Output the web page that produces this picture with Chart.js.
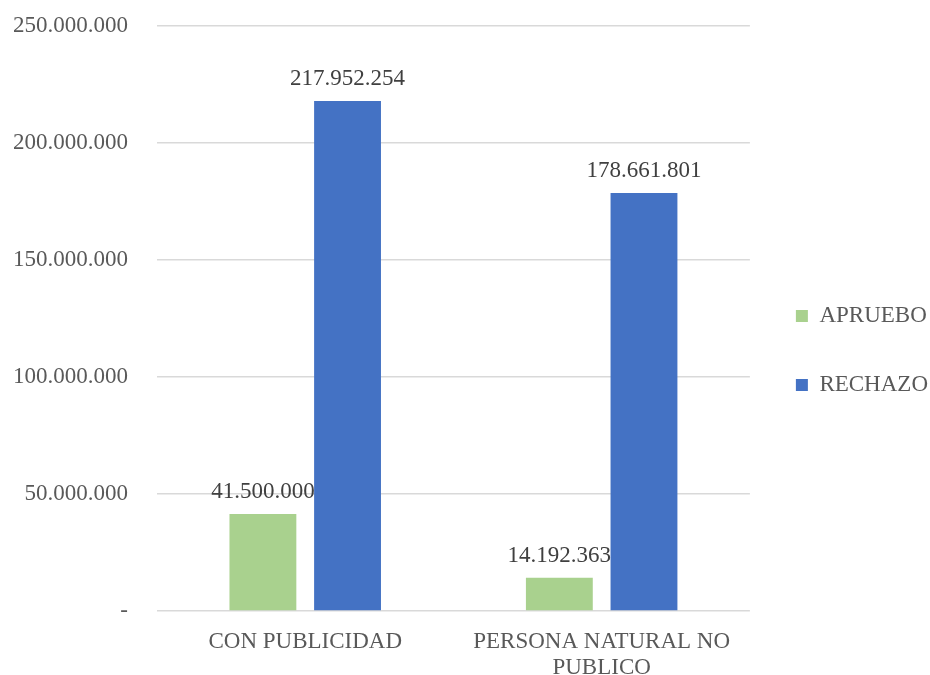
<!DOCTYPE html>
<html lang="es">
<head>
  <meta charset="UTF-8" />
  <title>Apruebo / Rechazo</title>
  <style>
    *{box-sizing:border-box;margin:0;padding:0;}
    html,body{width:930px;height:675px;background:#fff;overflow:hidden;}
    #wrap{width:930px;height:675px;position:relative;}
  </style>
</head>
<body>
  <div id="wrap"><canvas id="chart"></canvas></div>

  <script src="https://cdn.jsdelivr.net/npm/chart.js@4.4.1/dist/chart.umd.min.js"></script>
  <script>
  /* -------- datos -------- */
  const categories=['CON PUBLICIDAD',['PERSONA NATURAL NO','PUBLICO']];
  const seriesNames=['APRUEBO','RECHAZO'];
  const apruebo=[41500000,14192363];
  const rechazo=[217952254,178661801];
  const seriesColors=['#A9D18E','#4472C4'];
  const yTicks=[0,50000000,100000000,150000000,200000000,250000000];

  const FONT='"Liberation Serif","Times New Roman",serif';
  const fmt=v=>v===0?'-':String(v).replace(/\B(?=(\d{3})+(?!\d))/g,'.');

  /* etiquetas de valor sobre cada barra */
  const valueLabels={
    id:'valueLabels',
    afterDatasetsDraw(chart){
      const {ctx}=chart;
      ctx.save();
      ctx.font='23px '+FONT;
      ctx.fillStyle='#404040';
      ctx.textAlign='center';
      ctx.textBaseline='alphabetic';
      chart.data.datasets.forEach((ds,i)=>{
        chart.getDatasetMeta(i).data.forEach((bar,j)=>{
          ctx.fillText(fmt(ds.data[j]),bar.x,bar.y-16);
        });
      });
      ctx.restore();
    }
  };

  new Chart(document.getElementById('chart'),{
    type:'bar',
    data:{
      labels:categories,
      datasets:[
        {label:seriesNames[0],data:apruebo,backgroundColor:seriesColors[0]},
        {label:seriesNames[1],data:rechazo,backgroundColor:seriesColors[1]}
      ]
    },
    options:{
      responsive:true,
      maintainAspectRatio:false,
      animation:false,
      categoryPercentage:0.571,
      barPercentage:0.79,
      layout:{padding:{top:26,left:11,right:-8,bottom:0}},
      plugins:{
        tooltip:{enabled:false},
        legend:{
          position:'right',
          labels:{
            font:{family:FONT,size:23},
            color:'#595959',
            boxWidth:12,
            boxHeight:12,
            padding:46
          }
        }
      },
      scales:{
        x:{
          grid:{display:false,drawTicks:false},
          border:{display:false},
          afterFit(s){s.height=64;s.paddingLeft=0;s.paddingRight=0;},
          ticks:{
            font:{family:FONT,size:23,lineHeight:1.13},
            color:'#595959',
            padding:18,
            maxRotation:0,
            autoSkip:false
          }
        },
        y:{
          min:0,
          max:250000000,
          afterBuildTicks(scale){scale.ticks=yTicks.map(v=>({value:v}));},
          afterFit(s){s.width=146;s.paddingTop=0;s.paddingBottom=0;},
          grid:{color:'#D9D9D9',lineWidth:1.5,drawTicks:false},
          border:{display:false},
          ticks:{
            font:{family:FONT,size:23},
            color:'#595959',
            padding:29,
            callback:v=>fmt(v)
          }
        }
      }
    },
    plugins:[valueLabels]
  });
  </script>
</body>
</html>
